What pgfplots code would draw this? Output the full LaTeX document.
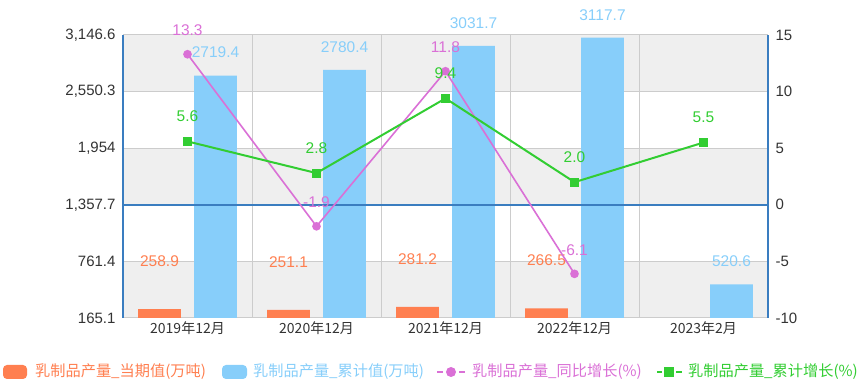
\documentclass[border=0pt]{standalone}
\usepackage{pgfplots}
\pgfplotsset{compat=1.18}
\usepackage{fontspec}
\setmainfont{Liberation Sans}
\newfontfamily\cjk{Noto Sans CJK SC}
\definecolor{cOrange}{HTML}{FF7F50}
\definecolor{cBlue}{HTML}{87CEFA}
\definecolor{cPurple}{HTML}{DA70D6}
\definecolor{cGreen}{HTML}{32CD32}
\definecolor{cAxis}{HTML}{3A7DC0}
\definecolor{cBand}{HTML}{EFEFEF}
\definecolor{cGrid}{HTML}{CCCCCC}
\definecolor{cText}{HTML}{333333}
\begin{document}
\begin{tikzpicture}[x=1pt,y=1pt]
\useasboundingbox (0,0) rectangle (865,388);
\begin{axis}[
  at={(123pt,70pt)}, anchor=south west, scale only axis,
  width=645pt, height=283pt,
  xmin=-0.5, xmax=4.5, ymin=165.1, ymax=3146.6,
  axis line style={draw=none}, major tick length=0pt,
  clip mode=individual,
  xtick={0,1,2,3,4},
  xticklabels={2019年12月,2020年12月,2021年12月,2022年12月,2023年2月},
  ytick={165.1,761.4,1357.7,1954,2550.3,3146.6},
  yticklabels={165.1,761.4,{1,357.7},{1,954},{2,550.3},{3,146.6}},
  yticklabel style={font=\fontsize{15}{17}\selectfont, text=cText, xshift=-4pt},
  xticklabel style={font=\cjk\fontsize{14}{16}\selectfont, text=cText},
]
\fill[cBand] (axis cs:-0.5,165.1) rectangle (axis cs:4.5,761.4);
\fill[cBand] (axis cs:-0.5,1357.7) rectangle (axis cs:4.5,1954);
\fill[cBand] (axis cs:-0.5,2550.3) rectangle (axis cs:4.5,3146.6);
\foreach \yy in {165.1,761.4,1954,2550.3,3146.6} {
  \edef\tmp{\noexpand\draw[cGrid, line width=1pt] (axis cs:-0.5,\yy) -- (axis cs:4.5,\yy);}\tmp
}
\foreach \xx in {0.5,1.5,2.5,3.5} {
  \edef\tmp{\noexpand\draw[cGrid, line width=1pt] (axis cs:\xx,165.1) -- (axis cs:\xx,3146.6);}\tmp
}
\addplot[ybar, bar width=0.333, bar shift=-0.217, fill=cOrange, draw=none,
  point meta=explicit symbolic, nodes near coords,
  nodes near coords style={anchor=center, xshift=-28pt, yshift=48pt, text=cOrange, font=\fontsize{15.5}{17}\selectfont}]
  coordinates {(0,258.9)[258.9] (1,251.1)[251.1] (2,281.2)[281.2] (3,266.5)[266.5]};
\addplot[ybar, bar width=0.333, bar shift=0.217, fill=cBlue, draw=none,
  point meta=explicit symbolic, nodes near coords,
  nodes near coords style={anchor=center, xshift=28pt, yshift=23pt, text=cBlue, font=\fontsize{15.5}{17}\selectfont}]
  coordinates {(0,2719.4)[2719.4] (1,2780.4)[2780.4] (2,3031.7)[3031.7] (3,3117.7)[3117.7] (4,520.6)[520.6]};
\draw[cAxis, line width=1.5pt] (axis cs:-0.5,1357.7) -- (axis cs:4.5,1357.7);
\draw[cAxis, line width=1.5pt] (axis cs:-0.5,165.1) -- (axis cs:-0.5,3146.6);
\draw[cAxis, line width=1.5pt] (axis cs:4.5,165.1) -- (axis cs:4.5,3146.6);
\end{axis}
\begin{axis}[
  at={(123pt,70pt)}, anchor=south west, scale only axis,
  width=645pt, height=283pt,
  xmin=-0.5, xmax=4.5, ymin=-10, ymax=15,
  axis line style={draw=none}, major tick length=0pt,
  clip mode=individual,
  xtick=\empty,
  axis y line*=right,
  ytick={-10,-5,0,5,10,15},
  yticklabels={-10,-5,0,5,10,15},
  yticklabel style={font=\fontsize{15}{17}\selectfont, text=cText, xshift=4pt},
]
\addplot[cPurple, line width=1.6pt, mark=*, mark size=3.5pt, mark options={fill=cPurple},
  point meta=explicit symbolic, nodes near coords,
  nodes near coords style={anchor=center, yshift=24pt, text=cPurple, font=\fontsize{15.5}{17}\selectfont}]
  coordinates {(0,13.3)[13.3] (1,-1.9)[-1.9] (2,11.8)[11.8] (3,-6.1)[-6.1]};
\addplot[cGreen, line width=2pt, mark=square*, mark size=3.5pt, mark options={fill=cGreen},
  point meta=explicit symbolic, nodes near coords,
  nodes near coords style={anchor=center, yshift=25pt, text=cGreen, font=\fontsize{15.5}{17}\selectfont}]
  coordinates {(0,5.6)[5.6] (1,2.8)[2.8] (2,9.4)[9.4] (3,2.0)[2.0] (4,5.5)[5.5]};
\end{axis}
% legend
\begin{scope}[font=\cjk\fontsize{15.2}{17}\selectfont]
\fill[cOrange, rounded corners=4pt] (3,9) rectangle (27,23);
\node[anchor=west, text=cOrange, inner sep=0pt] at (35,16) {乳制品产量\_当期值(万吨)};
\fill[cBlue, rounded corners=4pt] (222,9) rectangle (247,23);
\node[anchor=west, text=cBlue, inner sep=0pt] at (253,16) {乳制品产量\_累计值(万吨)};
\draw[cPurple, line width=2pt] (437,16) -- (443,16) (459,16) -- (465,16);
\fill[cPurple] (451,16) circle (5pt);
\node[anchor=west, text=cPurple, inner sep=0pt] at (472,16) {乳制品产量\_同比增长(\%)};
\draw[cGreen, line width=2pt] (657,16) -- (662,16) (676,16) -- (682,16);
\fill[cGreen] (664,11) rectangle (674,21);
\node[anchor=west, text=cGreen, inner sep=0pt] at (688,16) {乳制品产量\_累计增长(\%)};
\end{scope}
\end{tikzpicture}
\end{document}
